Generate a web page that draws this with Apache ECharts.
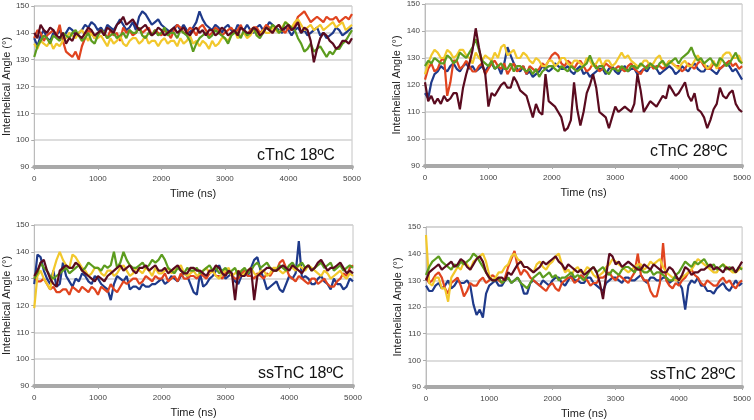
<!DOCTYPE html>
<html><head><meta charset="utf-8">
<script src="https://cdn.jsdelivr.net/npm/echarts@6/dist/echarts.min.js"></script>
<style>html,body{margin:0;padding:0;background:#fff}#c{width:754px;height:420px}</style>
</head><body><div id="c"></div>
<script>
// ---- data ----
const times = [0,50,100,150,200,250,300,350,400,450,500,550,600,650,700,750,800,850,900,950,
  1000,1050,1100,1150,1200,1250,1300,1350,1400,1450,1500,1550,1600,1650,1700,1750,1800,1850,1900,1950,
  2000,2050,2100,2150,2200,2250,2300,2350,2400,2450,2500,2550,2600,2650,2700,2750,2800,2850,2900,2950,
  3000,3050,3100,3150,3200,3250,3300,3350,3400,3450,3500,3550,3600,3650,3700,3750,3800,3850,3900,3950,
  4000,4050,4100,4150,4200,4250,4300,4350,4400,4450,4500,4550,4600,4650,4700,4750,4800,4850,4900,4950,5000];
const panelTitles = ["cTnC 18ºC", "cTnC 28ºC", "ssTnC 18ºC", "ssTnC 28ºC"];
const yTickMin = 90, yTickMax = 150, yTickStep = 10;
const xTickMin = 0, xTickMax = 5000, xTickStep = 1000;
const xAxisTitle = "Time (ns)";
const yAxisTitle = "Interhelical Angle (°)";
const seriesNames = ["Blue", "Red", "Yellow", "Green", "Maroon"];

// panel 1: cTnC 18ºC
const p1Blue = [138,135,139,141,138,137,140,139,141,138,140,142,141,139,140,141,143,142,144,143,
  141,142,140,143,142,141,143,145,143,141,142,144,141,146,148,147,145,143,144,145,
  143,142,141,140,142,143,141,143,141,140,142,144,148,145,143,142,141,143,142,140,
  142,143,141,140,143,142,141,143,141,140,142,143,141,142,144,143,142,141,140,142,
  141,139,141,142,140,141,139,140,141,142,139,140,138,139,140,142,141,139,140,141,142];
const p1Red = [138,141,140,137,139,140,141,139,143,137,133,132,131,133,130,135,138,141,140,138,
  139,141,140,138,141,139,140,137,142,140,141,139,140,142,140,141,142,139,141,140,
  139,141,140,138,141,143,142,140,140,142,141,139,142,143,141,139,140,142,141,139,
  140,141,142,140,141,143,140,139,141,142,142,140,141,143,142,140,142,143,141,140,
  142,141,143,146,147,148,146,144,145,146,145,144,146,145,145,146,144,145,146,145,147];
const p1Yellow = [136,134,137,136,135,137,134,136,135,137,138,140,139,138,140,141,139,137,140,138,
  138,139,137,135,138,136,137,139,136,135,137,138,138,136,137,139,136,137,137,135,
  137,138,136,137,137,135,138,136,137,139,136,137,135,137,136,134,137,135,136,138,
  138,137,139,141,138,139,140,138,139,141,140,139,141,140,140,142,141,140,142,144,
  143,142,144,145,143,141,142,143,141,142,143,141,142,143,144,142,143,144,141,142,143];
const p1Green = [131,135,137,139,138,136,139,138,137,140,139,138,140,141,139,137,138,140,137,136,
  139,141,140,138,139,140,138,139,140,138,141,140,140,142,139,138,140,139,141,139,
  140,142,139,140,140,138,141,140,139,137,133,136,138,139,140,138,139,141,140,139,
  138,136,139,140,140,138,141,139,140,142,139,138,140,142,141,143,142,140,141,144,
  143,142,141,138,136,133,134,136,133,134,135,133,131,133,132,134,134,136,137,139,141];
const p1Maroon = [140,138,143,141,140,142,141,139,138,140,136,138,137,140,139,138,140,142,141,139,
  140,141,139,142,141,140,143,144,146,143,144,145,143,141,142,143,141,139,140,142,
  141,139,140,141,142,140,141,142,140,139,141,142,140,141,139,141,141,139,140,142,
  141,139,140,141,139,142,141,140,140,142,141,139,140,142,141,140,142,143,141,142,
  143,141,142,144,140,142,141,137,129,134,138,140,139,137,136,134,135,137,137,136,138];

// panel 2: cTnC 28ºC
const p2Blue = [117,115,121,124,125,127,126,125,127,128,126,125,127,128,126,127,125,126,127,125,
  127,128,126,127,124,128,134,131,128,126,125,127,124,125,123,124,125,127,126,125,
  126,128,127,126,126,127,125,124,126,127,124,125,123,124,125,126,126,124,126,127,
  125,124,126,127,125,126,126,124,125,126,125,127,127,126,124,125,126,127,126,124,
  125,127,126,125,127,128,126,125,125,127,126,125,124,126,127,128,127,125,126,124,122];
const p2Red = [122,126,128,125,126,129,130,116,121,129,129,126,127,129,127,125,125,127,128,124,
  126,128,129,127,126,128,124,126,128,125,126,127,124,127,126,125,126,128,127,129,
  131,132,131,128,127,129,128,126,128,129,127,125,126,128,127,125,126,128,127,126,
  126,127,126,125,127,128,126,125,124,126,127,128,126,127,127,126,127,129,128,127,
  127,125,126,128,127,126,128,129,127,126,126,128,127,126,127,128,129,127,128,126,127];
const p2Yellow = [124,128,131,133,132,130,130,133,132,130,131,133,133,131,130,128,132,130,129,131,
  130,129,132,130,134,135,131,132,133,130,130,132,131,129,128,130,129,127,127,129,
  129,127,128,130,130,128,127,129,129,128,127,130,129,127,128,130,127,129,129,127,
  128,130,132,130,131,129,128,127,127,129,129,127,128,130,131,128,127,129,128,127,
  126,128,129,127,127,129,131,129,128,126,127,129,126,128,131,132,132,130,130,131,128];
const p2Green = [127,129,128,130,129,128,128,131,130,128,129,132,131,130,132,134,137,133,129,128,
  127,129,126,127,128,126,126,128,125,127,127,126,125,126,124,126,123,125,126,127,
  127,126,125,127,126,125,127,126,125,126,127,128,131,128,126,127,127,125,124,126,
  126,125,127,126,125,127,127,126,128,127,126,128,127,126,128,129,127,128,129,130,
  128,130,131,132,134,131,129,130,128,129,130,128,127,130,129,127,128,130,132,129,128];
const p2Maroon = [121,114,116,113,115,113,116,114,115,117,117,111,119,124,128,133,141,134,128,124,
  112,117,116,118,120,121,119,119,123,121,118,117,116,112,108,113,110,109,124,114,
  113,112,110,108,103,104,107,121,111,105,110,117,120,124,119,110,109,108,104,108,
  112,110,111,112,111,110,113,124,118,110,112,114,113,112,114,116,115,120,118,116,
  117,119,121,116,114,117,111,110,108,104,107,111,113,119,116,115,117,118,113,111,110];

// panel 3: ssTnC 18ºC
const p3Blue = [128,139,138,133,130,128,133,127,128,136,131,129,127,130,129,132,131,129,128,131,
  130,128,127,126,122,128,131,130,129,131,126,127,127,126,128,127,127,128,128,129,
  130,128,129,131,130,129,131,132,131,128,125,124,132,127,128,130,131,133,135,132,
  130,131,132,129,128,131,133,131,134,137,138,133,130,126,127,128,129,126,125,128,
  131,130,132,144,130,131,130,128,128,130,131,129,128,126,130,128,128,126,127,130,129];
const p3Red = [131,129,129,130,128,126,127,125,125,126,126,124,127,126,125,127,126,125,127,126,
  124,127,126,125,128,126,125,127,129,128,129,130,130,128,129,131,130,129,131,130,
  130,132,129,130,131,129,132,130,130,131,131,130,132,131,130,132,133,131,131,130,
  132,133,131,130,130,132,133,131,131,130,132,131,130,132,131,133,133,136,137,134,
  131,130,129,131,130,129,128,130,130,128,129,130,128,127,127,129,130,132,131,134,135];
const p3Yellow = [119,131,133,130,128,126,133,137,140,137,135,134,139,138,136,134,133,131,132,134,
  134,132,131,133,133,131,132,134,135,133,131,132,134,133,132,134,133,131,134,132,
  132,133,134,132,133,134,135,132,131,132,133,131,132,133,134,132,133,131,130,132,
  133,134,131,132,133,131,132,133,134,132,131,133,133,131,132,134,134,133,132,133,
  135,134,133,135,134,133,135,134,133,132,131,133,132,130,131,132,133,131,130,132,131];
const p3Green = [130,132,136,134,133,131,130,131,132,133,134,132,133,134,135,133,134,136,135,134,
  134,133,135,134,135,140,134,136,140,137,135,134,134,135,136,134,135,137,136,137,
  139,137,134,133,132,134,133,132,134,133,133,134,132,133,134,135,133,134,132,133,
  134,132,133,134,131,133,134,132,133,135,136,134,135,136,134,133,133,135,134,133,
  135,136,134,135,136,134,135,133,134,135,136,134,135,136,133,134,135,133,134,135,134];
const p3Maroon = [131,133,136,137,133,130,128,127,133,134,135,134,134,136,135,133,132,131,130,129,
  131,130,129,131,132,133,134,135,133,134,135,133,132,134,134,135,133,134,135,133,
  133,134,132,133,134,135,133,132,132,134,134,133,133,132,131,133,133,135,134,132,
  131,133,132,122,133,131,131,133,134,122,131,132,133,134,134,133,133,134,135,134,
  133,135,134,133,132,134,135,133,134,136,137,135,133,134,134,135,136,134,132,133,132];

// panel 4: ssTnC 28ºC
const p4Blue = [128,126,126,128,129,127,128,130,127,128,130,129,129,130,128,121,117,119,116,125,
  128,129,130,128,128,130,131,129,130,131,129,125,125,129,130,129,128,130,129,128,
  130,131,131,129,128,130,132,130,130,129,129,131,131,129,128,127,126,129,130,131,
  131,130,129,131,131,130,130,131,132,130,129,131,131,130,130,131,131,129,130,131,
  129,127,119,128,130,129,131,128,128,126,126,125,127,128,129,127,126,128,130,128,129];
const p4Red = [131,129,130,132,133,131,127,125,129,130,131,128,124,126,129,128,128,130,131,129,
  130,132,131,130,129,131,135,138,141,135,132,134,133,131,130,129,128,127,126,128,
  129,127,126,129,130,131,131,129,130,132,131,130,128,129,129,131,131,132,133,131,
  130,132,131,130,129,131,133,140,132,130,130,126,124,124,129,144,130,128,127,129,
  128,130,131,133,134,132,131,129,128,130,129,128,128,130,131,129,130,128,127,129,130];
const p4Yellow = [147,129,128,131,131,127,127,122,131,133,135,134,137,136,134,137,138,139,140,137,
  132,130,131,133,133,135,136,139,140,138,137,135,135,134,133,136,137,135,134,136,
  137,139,140,136,133,134,132,134,135,133,133,135,134,132,131,132,133,135,136,138,
  137,136,135,134,133,134,135,136,136,134,135,137,136,137,138,135,133,132,131,130,
  130,131,132,133,134,136,138,137,136,135,134,133,133,135,136,135,134,133,133,134,135];
const p4Green = [132,135,137,138,139,137,136,135,134,136,135,137,136,137,138,140,139,137,135,133,
  131,130,130,131,129,130,131,129,130,131,129,128,127,129,131,132,133,131,132,133,
  131,132,130,131,131,132,133,131,132,131,130,132,134,135,133,134,135,133,132,134,
  133,132,134,135,135,134,133,135,134,133,133,134,132,133,133,132,131,130,130,132,
  133,135,137,136,135,137,136,137,138,136,135,136,134,135,136,134,135,134,133,135,134];
const p4Maroon = [130,133,134,135,136,134,135,136,137,135,136,138,137,135,134,136,138,139,137,133,
  131,130,130,131,131,130,133,132,134,136,137,135,135,134,133,134,135,137,136,137,
  138,139,137,136,134,136,135,134,133,134,132,133,134,135,133,129,123,132,140,139,
  136,137,135,136,137,136,135,134,134,136,135,134,136,135,134,133,133,135,134,132,
  130,132,135,134,132,133,133,134,134,135,136,134,135,134,133,135,134,135,133,135,137];

// ---- styling / layout ----
const colors = ["#1f3a8a", "#e0441f", "#f2c82c", "#5c9c1e", "#5a0b1f"];
const panels = [
  [p1Blue, p1Red, p1Yellow, p1Green, p1Maroon],
  [p2Blue, p2Red, p2Yellow, p2Green, p2Maroon],
  [p3Blue, p3Red, p3Yellow, p3Green, p3Maroon],
  [p4Blue, p4Red, p4Yellow, p4Green, p4Maroon]
];
const gridRects = [
  {left: 33, top: 6, width: 319, height: 161},
  {left: 425, top: 3, width: 319, height: 163},
  {left: 34, top: 225, width: 319, height: 161},
  {left: 426, top: 227, width: 318, height: 161}
];
const labelPos = [[257, 156], [650, 152], [258, 374], [650, 375]];
const FONT = '"Liberation Sans", Arial, sans-serif';

const grid = [], xAxis = [], yAxis = [], series = [], graphic = [];
gridRects.forEach((r, i) => {
  grid.push(Object.assign({show: true, borderColor: '#c4c4c4', borderWidth: 1, backgroundColor: '#fff'}, r));
  xAxis.push({
    type: 'value', gridIndex: i, min: xTickMin, max: xTickMax, interval: xTickStep,
    name: xAxisTitle, nameLocation: 'middle', nameGap: 21,
    nameTextStyle: {fontSize: 11, color: '#222', fontFamily: FONT},
    axisLine: {show: true, onZero: false, lineStyle: {color: '#a9a9a9', width: 4}},
    axisTick: {show: true, length: 3, lineStyle: {color: '#aaa'}},
    axisLabel: {fontSize: 8, color: '#444', margin: 8, fontFamily: FONT, formatter: v => String(v)},
    splitLine: {show: false}
  });
  yAxis.push({
    type: 'value', gridIndex: i, min: yTickMin, max: yTickMax, interval: yTickStep,
    name: yAxisTitle, nameLocation: 'middle', nameGap: 21,
    nameTextStyle: {fontSize: 11, color: '#222', fontFamily: FONT},
    axisLine: {show: true, lineStyle: {color: '#bbb', width: 1}},
    axisTick: {show: true, length: 3, lineStyle: {color: '#aaa'}},
    axisLabel: {fontSize: 8, color: '#444', margin: 5, fontFamily: FONT, formatter: v => String(v)},
    splitLine: {show: true, lineStyle: {color: '#d2d2d2', width: 1.5}}
  });
  panels[i].forEach((vals, k) => {
    series.push({
      type: 'line', name: seriesNames[k], xAxisIndex: i, yAxisIndex: i,
      data: times.map((t, j) => [t, vals[j]]),
      showSymbol: false, symbol: 'none',
      lineStyle: {color: colors[k], width: 2.2},
      itemStyle: {color: colors[k]},
      animation: false, z: 2 + k
    });
  });
  graphic.push({
    type: 'text', x: labelPos[i][0], y: labelPos[i][1], z: 100,
    style: {text: panelTitles[i], fontSize: 16, fontFamily: FONT, fill: '#111', verticalAlign: 'middle'}
  });
});

const chart = echarts.init(document.getElementById('c'), null, {renderer: 'canvas'});
chart.setOption({animation: false, grid, xAxis, yAxis, series, graphic});
</script>
</body></html>
